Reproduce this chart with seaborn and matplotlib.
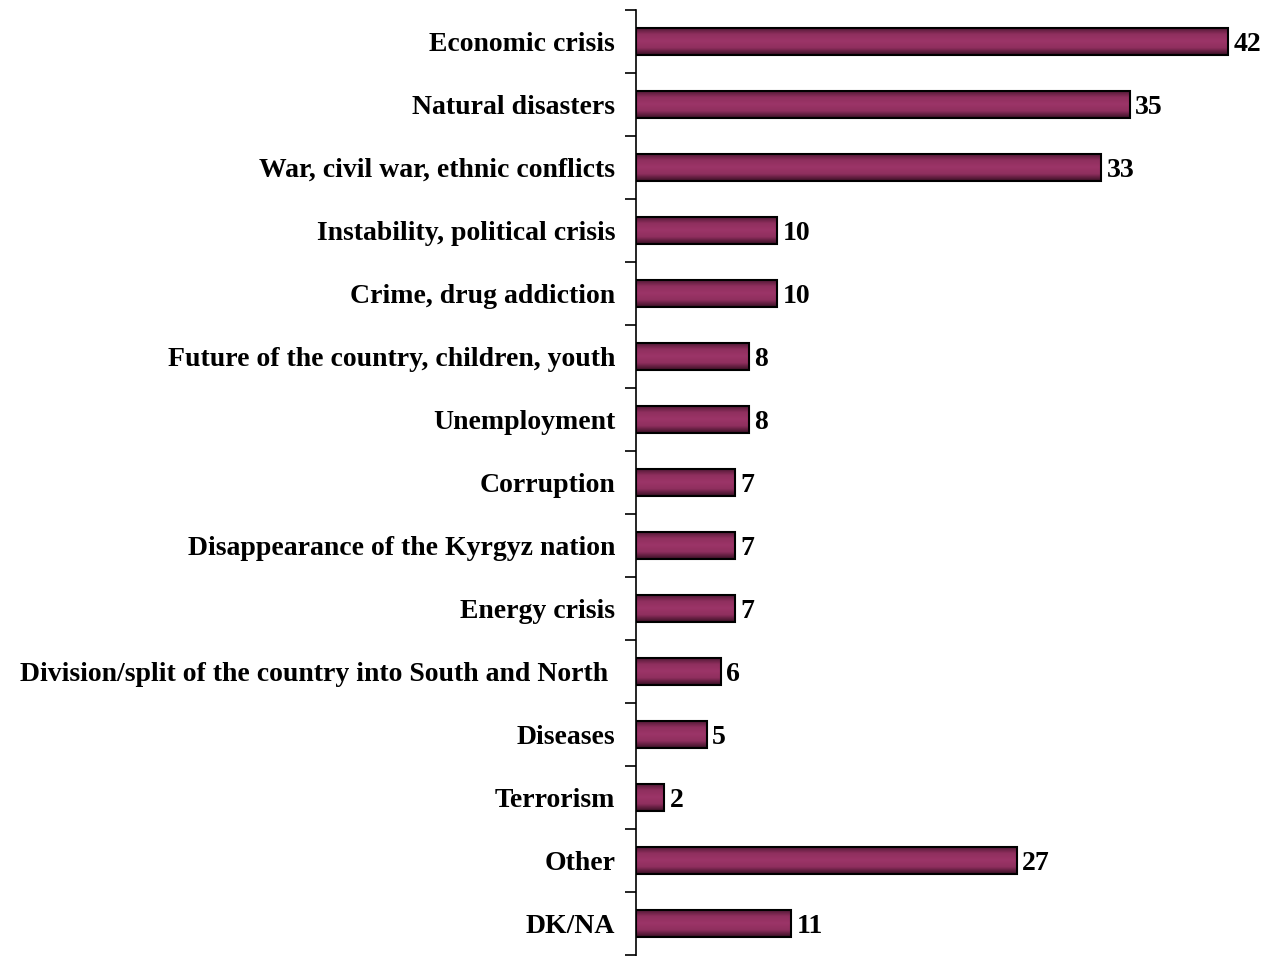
import numpy as np
import pandas as pd
import matplotlib
matplotlib.use("Agg")
import matplotlib.pyplot as plt
import seaborn as sns
from matplotlib.colors import LinearSegmentedColormap

categories = [
    "Economic crisis",
    "Natural disasters",
    "War, civil war, ethnic conflicts",
    "Instability, political crisis",
    "Crime, drug addiction",
    "Future of the country, children, youth",
    "Unemployment",
    "Corruption",
    "Disappearance of the Kyrgyz nation",
    "Energy crisis",
    "Division/split of the country into South and North ",
    "Diseases",
    "Terrorism",
    "Other",
    "DK/NA",
]
values = [42, 35, 33, 10, 10, 8, 8, 7, 7, 7, 6, 5, 2, 27, 11]

sns.set_theme(style="white")
plt.rcParams['font.family'] = ['Liberation Serif', 'DejaVu Serif']

df = pd.DataFrame({"cat": categories, "val": values})

fig = plt.figure(figsize=(12.68, 9.56), dpi=100)
ax = fig.add_axes([636 / 1268, 0.0, 1 - 636 / 1268, (956 - 10) / 956])

sns.barplot(data=df, y="cat", x="val", orient="h", color="#993366",
            width=0.43, edgecolor="black", linewidth=1.5, ax=ax, saturation=1)

XMAX = (1268 - 636) / 14.1
YLIM = (len(categories) - 0.5 + 0.02, -0.5)

# gradient shading on bars
cmap = LinearSegmentedColormap.from_list("g", ["#4a1630", "#8f2f5e", "#9c3568", "#8f2f5e", "#3a1025"])
grad = np.linspace(0, 1, 64).reshape(-1, 1)
for p in ax.patches:
    x0, y0 = p.get_x(), p.get_y()
    w, h = p.get_width(), p.get_height()
    im = ax.imshow(grad, cmap=cmap, aspect="auto", extent=(x0, x0 + w, y0 + h, y0),
                   zorder=p.get_zorder() + 0.1, interpolation="bilinear")
    im.set_clip_path(p)
    p.set_facecolor("none")
    p.set_zorder(p.get_zorder() + 0.2)
ax.set_ylim(*YLIM)
ax.set_xlim(0, XMAX)

for i, v in enumerate(values):
    ax.text(v + 0.4, i, str(v), va="center_baseline", ha="left", fontsize=20,
            fontweight="bold", color="black")

ax.set_xlabel("")
ax.set_ylabel("")
ax.set_xticks([])
for s in ["top", "right", "bottom"]:
    ax.spines[s].set_visible(False)
ax.spines["left"].set_color("black")
ax.spines["left"].set_linewidth(1.2)

ax.set_yticks(range(len(categories)))
ax.set_yticklabels(categories, fontsize=20, fontweight="bold", color="black")
ax.tick_params(axis="y", which="major", length=0, pad=15)
ax.set_yticks(np.arange(-0.5, len(categories), 1.0), minor=True)
ax.tick_params(axis="y", which="minor", length=8, width=1.2, color="black", left=True)

fig.savefig("out.png", dpi=100)
